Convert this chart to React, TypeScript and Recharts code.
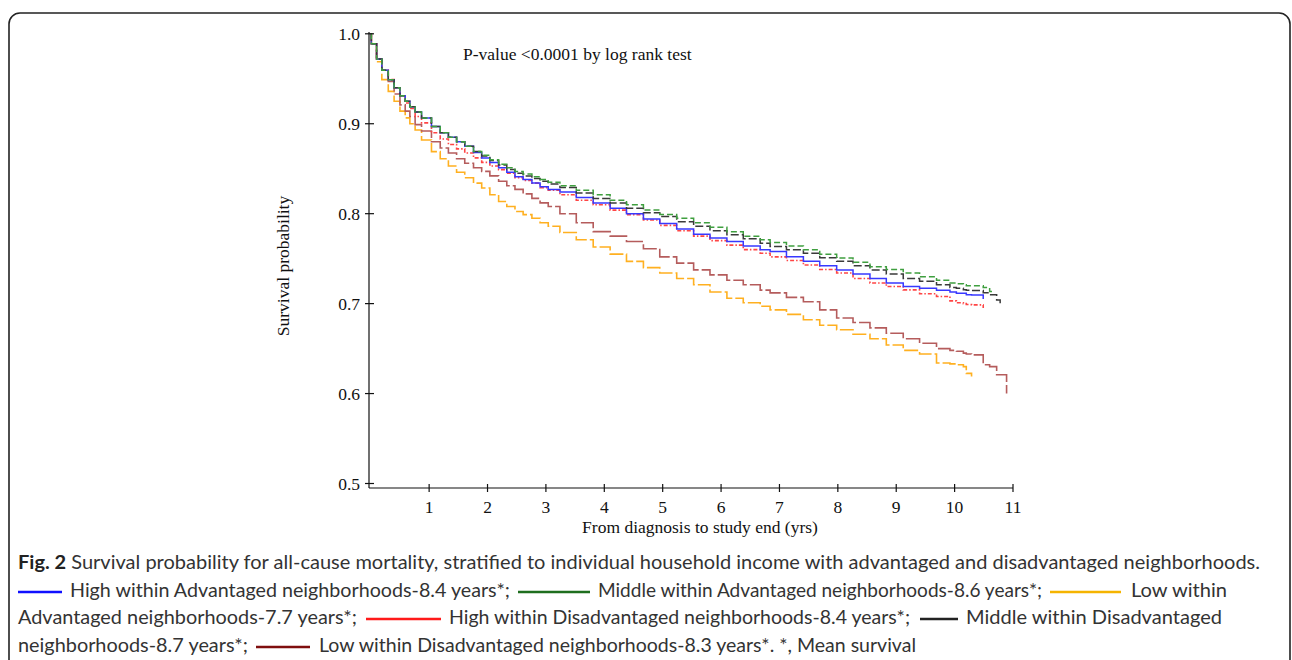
import React from 'react';
import { LineChart, Line, XAxis, YAxis, Label } from 'recharts';

// Time grid (years from diagnosis)
const years = [
  0, 0.01, 0.1, 0.19, 0.3, 0.4, 0.5, 0.59, 0.67, 0.76,
  0.87, 1.04, 1.19, 1.33, 1.47, 1.61, 1.76, 1.9, 2.04, 2.19,
  2.33, 2.47, 2.61, 2.76, 2.9, 3.04, 3.24, 3.52, 3.81, 4.1,
  4.38, 4.67, 4.95, 5.24, 5.53, 5.81, 6.1, 6.38, 6.67, 6.84,
  7.12, 7.41, 7.69, 7.98, 8.26, 8.55, 8.83, 9.12, 9.4, 9.69,
  9.92, 10.03, 10.15, 10.2, 10.29, 10.49, 10.6, 10.66, 10.72, 10.78,
  10.89,
];

// High within Advantaged (blue)
const highAdv: (number | null)[] = [
  1.0, 0.989, 0.972, 0.9595, 0.949, 0.94, 0.931, 0.925, 0.919, 0.913,
  0.9065, 0.897, 0.89, 0.885, 0.88, 0.875, 0.868, 0.862, 0.857, 0.851,
  0.846, 0.841, 0.838, 0.834, 0.83, 0.827, 0.824, 0.818, 0.812, 0.806,
  0.8, 0.794, 0.789, 0.783, 0.777, 0.773, 0.769, 0.764, 0.76, 0.758,
  0.752, 0.747, 0.742, 0.7375, 0.733, 0.728, 0.723, 0.719, 0.717, 0.715,
  0.713, 0.7115, 0.7115, 0.71, 0.7097, 0.705, null, null, null, null,
  null,
];

// Middle within Advantaged (green)
const midAdv: (number | null)[] = [
  1.0, 0.989, 0.972, 0.9595, 0.949, 0.94, 0.931, 0.925, 0.919, 0.913,
  0.9065, 0.897, 0.89, 0.885, 0.88, 0.875, 0.869, 0.865, 0.86, 0.855,
  0.851, 0.847, 0.844, 0.841, 0.838, 0.835, 0.831, 0.826, 0.821, 0.815,
  0.81, 0.804, 0.799, 0.795, 0.79, 0.785, 0.78, 0.775, 0.771, 0.768,
  0.764, 0.76, 0.755, 0.7506, 0.746, 0.741, 0.738, 0.734, 0.73, 0.726,
  0.723, 0.722, 0.721, 0.72, 0.72, 0.718, 0.7134, 0.7134, null, null,
  null,
];

// Low within Advantaged (orange)
const lowAdv: (number | null)[] = [
  1.0, 0.989, 0.969, 0.949, 0.936, 0.925, 0.914, 0.9065, 0.9, 0.893,
  0.882, 0.869, 0.861, 0.853, 0.846, 0.84, 0.834, 0.8285, 0.821, 0.8136,
  0.808, 0.8025, 0.799, 0.795, 0.79, 0.786, 0.779, 0.771, 0.763, 0.755,
  0.747, 0.74, 0.734, 0.728, 0.721, 0.713, 0.706, 0.701, 0.697, 0.693,
  0.688, 0.682, 0.676, 0.671, 0.666, 0.661, 0.654, 0.648, 0.644, 0.634,
  0.633, 0.632, 0.63, 0.6225, 0.619, null, null, null, null, null,
  null,
];

// High within Disadvantaged (red)
const highDis: (number | null)[] = [
  1.0, 0.989, 0.972, 0.9595, 0.949, 0.94, 0.931, 0.923, 0.917, 0.908,
  0.901, 0.89, 0.883, 0.877, 0.872, 0.8675, 0.862, 0.857, 0.853, 0.849,
  0.845, 0.84, 0.837, 0.834, 0.829, 0.826, 0.821, 0.815, 0.81, 0.804,
  0.799, 0.793, 0.787, 0.781, 0.775, 0.77, 0.765, 0.76, 0.756, 0.752,
  0.748, 0.743, 0.738, 0.734, 0.728, 0.723, 0.719, 0.7153, 0.711, 0.708,
  0.703, 0.701, 0.7, 0.699, 0.6986, 0.695, null, null, null, null,
  null,
];

// Middle within Disadvantaged (black)
const midDis: (number | null)[] = [
  1.0, 0.989, 0.972, 0.9595, 0.949, 0.94, 0.931, 0.925, 0.919, 0.913,
  0.9065, 0.897, 0.89, 0.885, 0.88, 0.875, 0.869, 0.864, 0.859, 0.854,
  0.849, 0.845, 0.842, 0.839, 0.836, 0.833, 0.829, 0.823, 0.817, 0.812,
  0.806, 0.801, 0.797, 0.791, 0.786, 0.781, 0.7765, 0.772, 0.767, 0.7635,
  0.76, 0.756, 0.751, 0.747, 0.742, 0.7375, 0.733, 0.728, 0.725, 0.721,
  0.718, 0.717, 0.7155, 0.715, 0.7145, 0.712, 0.71, 0.71, 0.704, 0.7005,
  null,
];

// Low within Disadvantaged (brown)
const lowDis: (number | null)[] = [
  1.0, 0.989, 0.972, 0.9595, 0.947, 0.933, 0.921, 0.914, 0.908, 0.899,
  0.892, 0.88, 0.873, 0.8675, 0.861, 0.856, 0.851, 0.847, 0.842, 0.836,
  0.831, 0.827, 0.822, 0.817, 0.812, 0.808, 0.8, 0.79, 0.78, 0.775,
  0.769, 0.761, 0.752, 0.745, 0.7375, 0.732, 0.726, 0.721, 0.715, 0.712,
  0.707, 0.702, 0.693, 0.684, 0.679, 0.673, 0.667, 0.661, 0.656, 0.65,
  0.648, 0.647, 0.645, 0.644, 0.643, 0.632, 0.63, 0.63, 0.621, 0.621,
  0.6,
];

const xTicks = [1, 2, 3, 4, 5, 6, 7, 8, 9, 10, 11];
const yTicks = [0.5, 0.6, 0.7, 0.8, 0.9, 1.0];

const data = years.map((t, i) => ({
  t,
  highAdv: highAdv[i],
  midAdv: midAdv[i],
  lowAdv: lowAdv[i],
  highDis: highDis[i],
  midDis: midDis[i],
  lowDis: lowDis[i],
}));

const SERIF = '"Liberation Serif", "Times New Roman", serif';
const SANS = 'Lato, "Open Sans", "Noto Sans", sans-serif';
const INK = '#111';
const FS = 17.5;

const YTick = (props: any) => {
  const { x, y, payload } = props;
  return (
    <g>
      <line x1={x - 4} x2={x + 5} y1={y} y2={y} stroke={INK} strokeWidth={1.2} />
      <text x={x - 9} y={y} dy="0.35em" textAnchor="end" fontFamily={SERIF} fontSize={FS} fill={INK}>
        {Number(payload.value).toFixed(1)}
      </text>
    </g>
  );
};

const XTick = (props: any) => {
  const { x, y, payload } = props;
  return (
    <g>
      <line x1={x} x2={x} y1={y - 4} y2={y + 4} stroke={INK} strokeWidth={1.2} />
      <text x={x} y={y + 25} textAnchor="middle" fontFamily={SERIF} fontSize={FS} fill={INK}>
        {payload.value}
      </text>
    </g>
  );
};

const capY = [569, 597, 624, 652];

const Sample = ({ x1, x2, y, color }: { x1: number; x2: number; y: number; color: string }) => (
  <line x1={x1} x2={x2} y1={y - 5} y2={y - 5} stroke={color} strokeWidth={2.5} />
);

const Seg = ({ x, y, w, children }: { x: number; y: number; w: number; children: React.ReactNode }) => (
  <text x={x} y={y} textLength={w} lengthAdjust="spacingAndGlyphs" fontFamily={SANS} fontSize={19} fill="#333">
    {children}
  </text>
);

export default function App() {
  return (
    <div style={{ position: 'absolute', left: 0, top: 0, width: 1292, height: 660, overflow: 'hidden', background: '#fff' }}>
      <div style={{ position: 'absolute', left: 0, top: 0 }}>
        <LineChart
          width={1100}
          height={540}
          data={data}
          margin={{ top: 32, right: 87, bottom: 12, left: 309 }}
        >
          <XAxis
            dataKey="t"
            type="number"
            domain={[-0.03, 11]}
            ticks={xTicks}
            interval={0}
            allowDataOverflow
            height={40}
            tickSize={0}
            tickMargin={0}
            tickLine={false}
            axisLine={{ stroke: INK, strokeWidth: 1.2 }}
            tick={<XTick />}
          >
            <Label
              content={() => (
                <text x={700} y={533} textAnchor="middle" fontFamily={SERIF} fontSize={FS} fill={INK}>
                  From diagnosis to study end (yrs)
                </text>
              )}
            />
          </XAxis>
          <YAxis
            type="number"
            domain={[0.495, 1.002]}
            ticks={yTicks}
            interval={0}
            allowDataOverflow
            width={60}
            tickSize={0}
            tickMargin={0}
            tickLine={false}
            axisLine={{ stroke: INK, strokeWidth: 1.2 }}
            tick={<YTick />}
          >
            <Label
              content={() => (
                <g>
                  <text
                    x={283}
                    y={266}
                    dy="0.35em"
                    textAnchor="middle"
                    transform="rotate(-90, 283, 266)"
                    fontFamily={SERIF}
                    fontSize={FS}
                    fill={INK}
                  >
                    Survival probability
                  </text>
                  <text x={463} y={60} fontFamily={SERIF} fontSize={FS} fill={INK}>
                    P-value &lt;0.0001 by log rank test
                  </text>
                </g>
              )}
            />
          </YAxis>
          <Line type="stepAfter" dataKey="lowAdv" stroke="#ffb020" strokeWidth={1.6} strokeDasharray="14 3" dot={false} isAnimationActive={false} />
          <Line type="stepAfter" dataKey="lowDis" stroke="#b55c5c" strokeWidth={1.6} strokeDasharray="18 3" dot={false} isAnimationActive={false} />
          <Line type="stepAfter" dataKey="highDis" stroke="#ff4545" strokeWidth={1.6} strokeDasharray="4 2 1.5 2" dot={false} isAnimationActive={false} />
          <Line type="stepAfter" dataKey="highAdv" stroke="#3838ff" strokeWidth={1.5} dot={false} isAnimationActive={false} />
          <Line type="stepAfter" dataKey="midDis" stroke="#3a3a3a" strokeWidth={1.5} strokeDasharray="8 3" dot={false} isAnimationActive={false} />
          <Line type="stepAfter" dataKey="midAdv" stroke="#3f9f3f" strokeWidth={1.5} strokeDasharray="6 3" dot={false} isAnimationActive={false} />
        </LineChart>
      </div>
      <svg width={1292} height={660} style={{ position: 'absolute', left: 0, top: 0, pointerEvents: 'none' }}>
        <rect x={9} y={13} width={1281} height={720} rx={11} ry={11} fill="none" stroke="#222" strokeWidth={1.6} />
        <text x={18} y={capY[0]} textLength={1242} lengthAdjust="spacingAndGlyphs" fontFamily={SANS} fontSize={19} fill="#333">
          <tspan fontWeight="bold" fill="#222">Fig. 2</tspan>
          {' Survival probability for all-cause mortality, stratified to individual household income with advantaged and disadvantaged neighborhoods.'}
        </text>

        <Sample x1={18} x2={62} y={capY[1]} color="#1010ff" />
        <Seg x={70} y={capY[1]} w={440}>High within Advantaged neighborhoods-8.4 years*;</Seg>
        <Sample x1={518} x2={590} y={capY[1]} color="#1e6e1e" />
        <Seg x={598} y={capY[1]} w={444}>Middle within Advantaged neighborhoods-8.6 years*;</Seg>
        <Sample x1={1050} x2={1121} y={capY[1]} color="#f5b400" />
        <Seg x={1131} y={capY[1]} w={96}>Low within</Seg>

        <Seg x={18} y={capY[2]} w={339}>Advantaged neighborhoods-7.7 years*;</Seg>
        <Sample x1={366} x2={441} y={capY[2]} color="#ff1a1a" />
        <Seg x={449} y={capY[2]} w={461}>High within Disadvantaged neighborhoods-8.4 years*;</Seg>
        <Sample x1={920} x2={958} y={capY[2]} color="#222" />
        <Seg x={966} y={capY[2]} w={256}>Middle within Disadvantaged</Seg>

        <Seg x={18} y={capY[3]} w={230}>neighborhoods-8.7 years*;</Seg>
        <Sample x1={256} x2={310} y={capY[3]} color="#7f0f0f" />
        <Seg x={319} y={capY[3]} w={597}>Low within Disadvantaged neighborhoods-8.3 years*. *, Mean survival</Seg>
      </svg>
    </div>
  );
}
